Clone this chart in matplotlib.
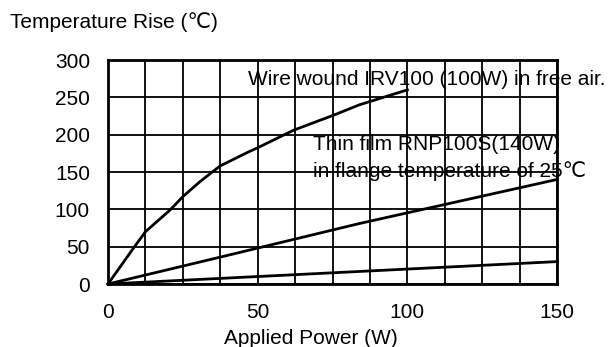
import matplotlib
matplotlib.use("Agg")
import matplotlib.pyplot as plt
from matplotlib.ticker import MultipleLocator

plt.rcParams['font.family'] = ['Liberation Sans', 'DejaVu Sans']

# Data
wire_x = [0, 8.5, 12.5, 20.7, 25, 30.7, 37.4, 47, 50.8, 62, 75.3, 84, 100]
wire_y = [0, 48, 70, 99, 117, 137, 158, 177, 184, 206, 226, 240, 260]
thin_x = [0, 37.5, 84, 150]
thin_y = [0, 36, 81, 140]
low_x = [0, 150]
low_y = [0, 30]

xticks = [0, 50, 100, 150]
yticks = [0, 50, 100, 150, 200, 250, 300]

title = "Temperature Rise (℃)"
xlabel = "Applied Power (W)"
ann1 = "Wire wound IRV100 (100W) in free air."
ann2a = "Thin film RNP100S(140W)"
ann2b = "in flange temperature of 25℃"

fig = plt.figure(figsize=(6.13, 3.47), dpi=100)
ax = fig.add_axes([108/613, 1-284/347, (557-108)/613, (284-60)/347])
ax.set_xlim(0, 150)
ax.set_ylim(0, 300)
ax.xaxis.set_minor_locator(MultipleLocator(12.5))
ax.set_xticks(xticks)
ax.set_yticks(yticks)
ax.grid(True, which='both', axis='x', color='black', lw=1.3)
ax.grid(True, which='major', axis='y', color='black', lw=1.3)
ax.tick_params(which='both', length=0, labelsize=15)
ax.tick_params(axis='y', pad=13)
ax.tick_params(axis='x', pad=14)
for s in ax.spines.values():
    s.set_linewidth(2)
    s.set_color('black')

for xs, ys in [(wire_x, wire_y), (thin_x, thin_y), (low_x, low_y)]:
    ax.plot(xs, ys, color='black', lw=2, clip_on=False, zorder=3)

ax.text(46.8, 267, ann1, fontsize=15, ha='left', va='baseline', zorder=4)
ax.text(68.5, 179.5, ann2a, fontsize=15, ha='left', va='baseline', zorder=4)
ax.text(68.5, 143.3, ann2b, fontsize=15, ha='left', va='baseline', zorder=4)

fig.text(10/613, 1-28/347, title, fontsize=15, ha='left', va='baseline')
fig.text(311/613, 1-344/347, xlabel, fontsize=15, ha='center', va='baseline')

fig.savefig("out.png", dpi=100)
